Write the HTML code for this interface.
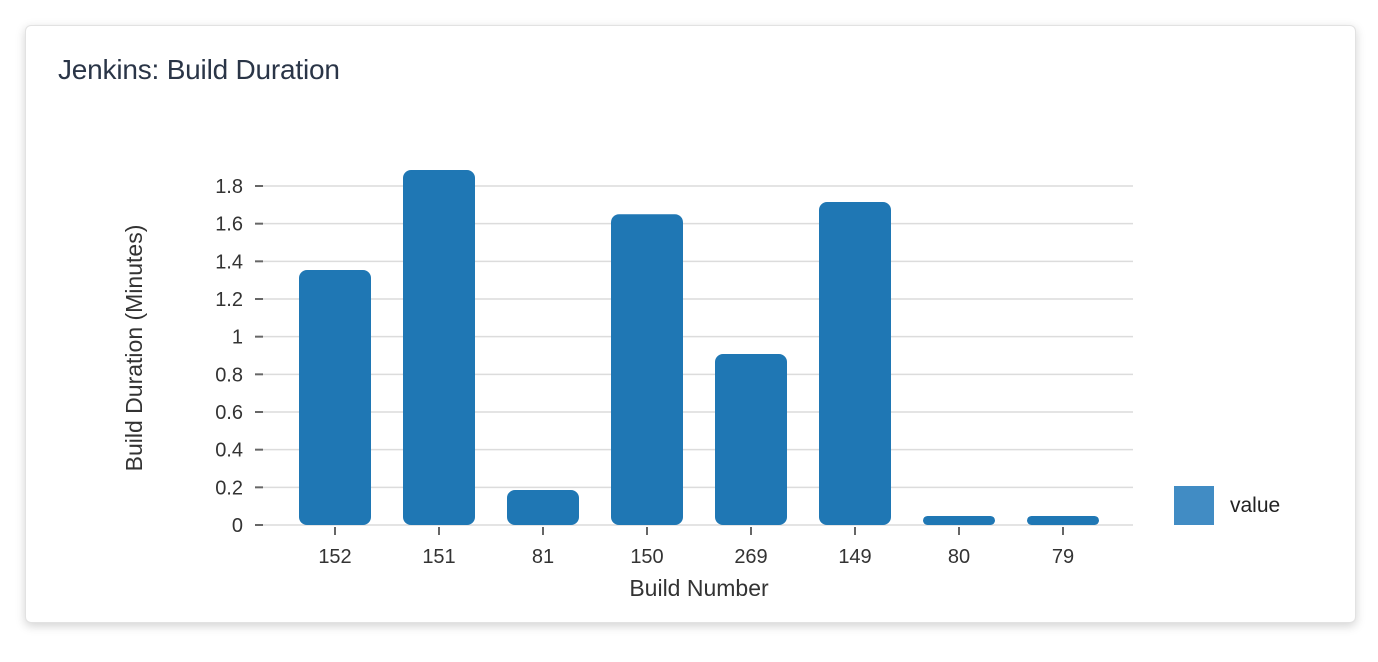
<!DOCTYPE html>
<html><head><meta charset="utf-8"><style>
body{margin:0;background:#fff;width:1378px;height:662px;overflow:hidden;font-family:"Liberation Sans",sans-serif}
.card{position:absolute;left:25px;top:25px;width:1329px;height:596px;border:1px solid #e2e2e2;border-radius:6px;box-shadow:0 3px 10px rgba(0,0,0,0.18);background:#fff}
.title{position:absolute;left:32px;top:28px;font-size:28px;color:#2a3547;letter-spacing:-0.2px}
svg{position:absolute;left:0;top:0}
</style></head><body>
<div class="card"><div class="title">Jenkins: Build Duration</div></div>
<svg id="c" width="1378" height="662"></svg>
<script>
const categories=["152","151","81","150","269","149","80","79"];
const values=[1.354,1.885,0.186,1.65,0.908,1.715,0.048,0.048];
const yTicks=[0,0.2,0.4,0.6,0.8,1,1.2,1.4,1.6,1.8];
const yTickLabels=["0","0.2","0.4","0.6","0.8","1","1.2","1.4","1.6","1.8"];
const ns="http://www.w3.org/2000/svg",svg=document.getElementById('c');
function y(v){return 525-v*(525-186)/1.8;}
function x(i){return 335+i*104;}
function mk(t,a,txt){const e=document.createElementNS(ns,t);for(const k in a)e.setAttribute(k,a[k]);if(txt!==undefined)e.textContent=txt;svg.appendChild(e);return e;}
yTicks.forEach((v,i)=>{
 let g=mk('line',{x1:263,x2:1133,y1:y(v),y2:y(v),stroke:'#dcdcdc','stroke-width':1.5});
 
 mk('line',{x1:255,x2:263,y1:y(v),y2:y(v),stroke:'#666','stroke-width':2});
 let t=mk('text',{x:243,y:y(v)+7,'text-anchor':'end','font-size':20,fill:'#333'},yTickLabels[i]);
 
});
categories.forEach((c,i)=>{
 const top=y(values[i]),h=525-top,r=Math.min(8,h/2);
 let b=mk('rect',{x:x(i)-36,y:top,width:72,height:h,rx:r,ry:r,fill:'#1f77b4'});
 
 mk('line',{x1:x(i),x2:x(i),y1:527,y2:535,stroke:'#666','stroke-width':2});
 let t=mk('text',{x:x(i),y:563,'text-anchor':'middle','font-size':20,fill:'#333'},c);
 
});
let xt=mk('text',{x:699,y:596,'text-anchor':'middle','font-size':23,fill:'#333'},'Build Number');

let yt=mk('text',{x:0,y:0,'text-anchor':'middle','font-size':23,fill:'#333',transform:'translate(142,348) rotate(-90)'},'Build Duration (Minutes)');

let ls=mk('rect',{x:1174,y:486,width:40,height:39,fill:'#418cc4'});

let lt=mk('text',{x:1230,y:512,'font-size':21,fill:'#222'},'value');

</script>
</body></html>
